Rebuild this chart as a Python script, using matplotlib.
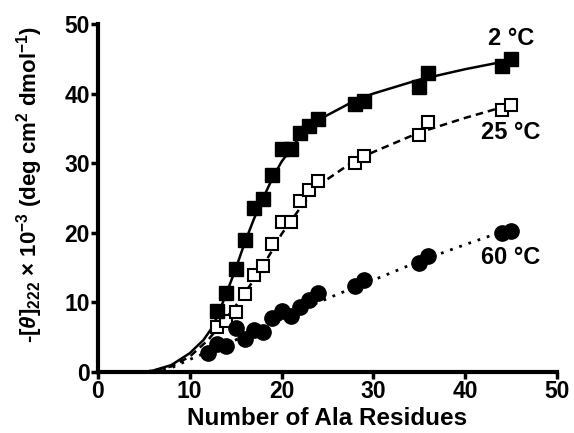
import matplotlib
matplotlib.use('Agg')
import matplotlib.pyplot as plt

plt.rcParams['font.family'] = 'Liberation Sans'
plt.rcParams['font.weight'] = 'bold'
plt.rcParams['mathtext.fontset'] = 'custom'
plt.rcParams['mathtext.rm'] = 'Liberation Sans:bold'
plt.rcParams['mathtext.it'] = 'Liberation Sans:italic:bold'
plt.rcParams['mathtext.bf'] = 'Liberation Sans:bold'

# measured points
x_2c = [13, 14, 15, 16, 17, 18, 19, 20, 21, 22, 23, 24, 28, 29, 35, 36, 44, 45]
y_2c = [8.8, 11.3, 14.8, 19.0, 23.6, 24.8, 28.3, 32.0, 32.0, 34.3, 35.4, 36.4,
        38.5, 39.0, 41.0, 43.0, 44.0, 45.0]

x_25c = [13, 14, 15, 16, 17, 18, 19, 20, 21, 22, 23, 24, 28, 29, 35, 36, 44, 45]
y_25c = [6.5, 7.3, 8.6, 11.2, 14.0, 15.3, 18.4, 21.6, 21.6, 24.5, 26.2, 27.4,
         30.0, 31.1, 34.0, 35.9, 37.6, 38.4]

x_60c = [12, 13, 14, 15, 16, 17, 18, 19, 20, 21, 22, 23, 24, 28, 29, 35, 36, 44, 45]
y_60c = [2.7, 4.0, 3.7, 6.3, 4.8, 6.0, 5.8, 7.7, 8.7, 8.0, 9.3, 10.4, 11.4,
         12.3, 13.2, 15.6, 16.7, 20.0, 20.3]

# fitted curves
fx_2c = [5, 6, 8, 10, 11.5, 12.5, 13, 14, 15, 16, 17, 18, 19, 20, 22, 24, 28, 30, 35, 40, 45]
fy_2c = [0, 0.2, 1.0, 2.7, 4.6, 6.5, 8.0, 11.3, 14.8, 18.6, 22.0, 25.0, 27.8, 30.2,
         33.8, 36.2, 39.0, 40.0, 42.0, 43.5, 44.8]

fx_25c = [5, 6, 8, 10, 12, 13, 14, 15, 16, 17, 18, 19, 20, 22, 24, 28, 30, 35, 40, 45]
fy_25c = [0, 0.2, 0.8, 2.2, 4.6, 6.2, 7.8, 9.5, 11.3, 13.3, 15.3, 17.5, 19.8,
          23.5, 26.8, 30.4, 31.6, 34.4, 36.5, 38.4]

fx_60c = [5, 6, 8, 10, 12, 15, 20, 24, 28, 30, 35, 40, 45]
fy_60c = [0, 0.1, 0.6, 1.8, 2.9, 4.6, 7.6, 10.0, 12.2, 13.2, 15.9, 18.3, 20.6]

fig = plt.figure(figsize=(5.74, 4.33), dpi=100)
ax = fig.add_axes([0.1707, 0.1409, 0.7993, 0.8037])

ax.plot(fx_2c, fy_2c, 'k-', lw=1.8)
ax.plot(fx_25c, fy_25c, 'k--', lw=1.8, dashes=(3, 2))
ax.plot(fx_60c, fy_60c, 'k:', lw=2.0, dashes=(1, 2.5))

ax.plot(x_25c, y_25c, 's', ms=9, mfc='white', mec='black', mew=1.5, ls='none')
ax.plot(x_60c, y_60c, 'o', ms=11, mfc='black', mec='black', ls='none')
ax.plot(x_2c, y_2c, 's', ms=10, mfc='black', mec='black', ls='none')

ax.text(45, 47.9, '2 °C', fontsize=17, fontweight='bold', ha='center', va='center')
ax.text(45, 34.4, '25 °C', fontsize=17, fontweight='bold', ha='center', va='center')
ax.text(45, 16.5, '60 °C', fontsize=17, fontweight='bold', ha='center', va='center')

ax.set_xlim(0, 50)
ax.set_ylim(0, 50)
ax.set_xticks([0, 10, 20, 30, 40, 50])
ax.set_yticks([0, 10, 20, 30, 40, 50])
ax.tick_params(width=2.5, length=5, labelsize=16.5, pad=1)
for s in ['top', 'right']:
    ax.spines[s].set_visible(False)
for s in ['left', 'bottom']:
    ax.spines[s].set_linewidth(3)
ax.set_xlabel('Number of Ala Residues', fontsize=17.5, fontweight='bold', labelpad=3)
ax.set_ylabel(r'-[$\it{\theta}$]$_{222}$ × 10$^{-3}$ (deg cm$^{2}$ dmol$^{-1}$)',
              fontsize=16, fontweight='bold')
ax.yaxis.set_label_coords(-0.115, 0.54)

fig.savefig('out.png', dpi=100)
